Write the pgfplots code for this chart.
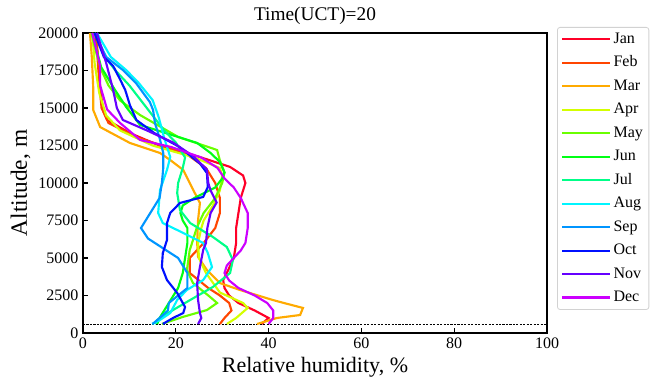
\documentclass[border=0pt]{standalone}
\usepackage{fontspec}
\setmainfont{Liberation Serif}
\usepackage{pgfplots}
\pgfplotsset{compat=1.18}
\definecolor{cJan}{HTML}{FF0028}
\definecolor{cFeb}{HTML}{FF4500}
\definecolor{cMar}{HTML}{FFAA00}
\definecolor{cApr}{HTML}{D4FF00}
\definecolor{cMay}{HTML}{6AFF00}
\definecolor{cJun}{HTML}{00FF15}
\definecolor{cJul}{HTML}{00FF88}
\definecolor{cAug}{HTML}{00F5FF}
\definecolor{cSep}{HTML}{0095FF}
\definecolor{cOct}{HTML}{0010FF}
\definecolor{cNov}{HTML}{6500FF}
\definecolor{cDec}{HTML}{CC00FF}
\begin{document}
\begin{tikzpicture}
\begin{axis}[
  scale only axis, width=348pt, height=225pt,
  xmin=0, xmax=100, ymin=0, ymax=20000,
  xtick={0,20,40,60,80,100},
  ytick={0,2500,5000,7500,10000,12500,15000,17500,20000},
  tick pos=left, tick align=inside, major tick length=3.5pt,
  axis line style={line width=0.9pt},
  every tick/.style={black, line width=0.8pt},
  scaled ticks=false,
  /pgf/number format/assume math mode=true,
  yticklabel style={/pgf/number format/fixed, /pgf/number format/1000 sep={}},
  ticklabel style={font=\fontsize{12}{14}\selectfont},
  xlabel={Relative humidity, \%},
  ylabel={Altitude, m},
  xlabel style={font=\fontsize{16.5}{18}\selectfont},
  ylabel style={font=\fontsize{17.5}{19}\selectfont, yshift=-1pt},
  title={Time(UCT)=20},
  title style={font=\fontsize{14.5}{16}\selectfont, yshift=-3pt},
  every axis plot/.append style={line width=1.6pt},
  legend cell align=left,
  legend image code/.code={\path (-2pt,0pt) -- (34pt,0pt);\draw[#1] (0pt,0pt) -- (26pt,0pt);},
  legend style={at={(1.0216,1.02)}, anchor=north west, draw=gray!35, line width=0.6pt,
    rounded corners=2pt, font=\fontsize{12}{14}\selectfont,
    nodes={inner sep=1.5pt, text height=8.5pt, text depth=2.5pt}, row sep=3.6pt},
]
\addplot[black, densely dotted, line width=0.6pt, forget plot] coordinates {(0,600) (100,600)};
% Jan
\addplot[cJan] coordinates {(38.5,600) (40,1000) (37,1500) (33.5,2000) (31.5,2500) (30.5,3000) (30.2,3530) (31,4000) (32.5,5000) (33,6000) (33,7000) (33.5,8000) (34,9000) (35,10000) (34.5,10500) (31.7,11070) (25.2,11730) (17.2,12400) (10.1,13330) (5.2,14200) (4.3,14870) (3.7,16400) (3.2,18400) (2.6,20000)};
\addlegendentry{Jan}
% Feb
\addplot[cFeb] coordinates {(29.5,600) (30.5,1000) (32,1500) (31.5,2000) (29.5,2500) (27,3000) (25,3500) (23,4000) (23,5000) (26,6000) (28.5,7000) (29.5,8000) (29.5,9000) (28.5,10000) (26.5,11000) (22,12000) (12,13000) (5.5,14000) (4,15000) (3.7,16000) (3.2,18000) (3,20000)};
\addlegendentry{Feb}
% Mar
\addplot[cMar] coordinates {(37.5,600) (41.8,1000) (46.8,1200) (47.4,1670) (43.3,2000) (40.9,2200) (33.8,2870) (29.5,3330) (26.7,4200) (24.8,5070) (24.6,6000) (24.8,7530) (25.2,8670) (24.1,9330) (21.6,10870) (18.8,11530) (16.6,12000) (10.1,12670) (3.7,13730) (2.2,14870) (2.2,16400) (1.9,18400) (1.5,20000)};
\addlegendentry{Mar}
% Apr
\addplot[cApr] coordinates {(31,600) (33,1000) (35.5,1670) (34.5,2000) (29.5,2700) (26.5,4000) (25,5000) (24.8,6000) (25.5,7000) (26,7500) (28,8500) (29.5,9500) (30,10500) (29.5,11000) (24,11700) (15,12500) (8,13500) (5,14500) (3.5,16000) (2.5,18000) (2,20000)};
\addlegendentry{Apr}
% May
\addplot[cMay] coordinates {(17,600) (21.5,1070) (26.7,1530) (28.9,2000) (27.4,2400) (23.7,3330) (22.4,4200) (23,5530) (23.5,6000) (24.5,7000) (26,8000) (28.5,9000) (30,10000) (30.5,10700) (29.5,11500) (28.9,12200) (20.5,13070) (12.3,14530) (8,15500) (5.5,16500) (4,17500) (3,18500) (1.8,20000)};
\addlegendentry{May}
% Jun
\addplot[cJun] coordinates {(16,600) (16.5,1000) (17.5,1500) (18.5,2000) (20.5,3000) (21.5,4000) (22,5000) (22.5,6000) (22.5,7000) (21.5,7500) (21,8000) (21.5,8500) (24,9000) (28.5,9700) (30,10300) (30.5,10700) (29.5,11400) (27.5,12000) (24.6,12670) (12.3,13870) (9.3,15070) (6.9,16200) (3.9,17730) (2,20000)};
\addlegendentry{Jun}
% Jul
\addplot[cJul] coordinates {(15.5,600) (16,870) (19.4,1530) (23.1,2200) (28,3070) (31.7,4000) (32.3,4870) (31,5730) (28,6400) (23.1,7330) (20.9,8200) (20.3,9330) (20.5,10000) (21.5,11000) (22,11700) (20,12700) (17.5,13500) (15,14500) (12.5,15500) (10,16500) (7,17500) (4.5,18500) (2.5,20000)};
\addlegendentry{Jul}
% Aug
\addplot[cAug] coordinates {(14.9,600) (16.6,870) (18.8,1330) (20.3,2200) (22.4,2870) (25.9,3530) (27.8,4400) (26.9,5330) (25.9,6000) (21.6,6670) (17.2,7330) (16.2,8000) (16.6,9530) (18.1,10870) (18.8,11730) (17.5,13000) (16.3,14400) (15,15530) (12,16670) (9.3,17530) (6,18400) (3,20000)};
\addlegendentry{Aug}
% Sep
\addplot[cSep] coordinates {(15,600) (16.5,1000) (18.3,1500) (18.5,2000) (20.5,2500) (22.5,3000) (22.5,4000) (20.5,5000) (17,5700) (14,6300) (12.5,7000) (14.5,8000) (16.5,9000) (17,10000) (17.3,11000) (17.3,12000) (16.5,13000) (15.5,14000) (15.1,14870) (14.4,15400) (11.4,16670) (8.6,17530) (5,18400) (2.5,20000)};
\addlegendentry{Sep}
% Oct
\addplot[cOct] coordinates {(17.2,600) (19.4,1000) (21.6,1330) (22,1730) (20.3,2670) (18.1,3530) (17,4400) (17.2,5330) (18.1,6200) (18.1,7330) (18.8,8000) (20.9,8670) (25.9,9070) (26.9,9730) (26.7,10670) (25.2,11300) (20.8,12400) (15.5,13300) (11.5,14200) (10.1,15200) (9.1,16200) (8,16900) (6.5,17800) (4.5,18400) (2.5,20000)};
\addlegendentry{Oct}
% Nov
\addplot[cNov] coordinates {(24.8,600) (25.5,1000) (25.2,1330) (24.8,2200) (24.6,3330) (25.2,4400) (25.9,5530) (26.5,6000) (26.8,7000) (27.5,8000) (28.8,8700) (27.5,9500) (27,10000) (26.7,10900) (23.7,11800) (19.4,12700) (13.8,13500) (8.6,14200) (7.3,15000) (6.5,16200) (5,18000) (3,20000)};
\addlegendentry{Nov}
% Dec
\addplot[cDec] coordinates {(40,600) (41,1000) (41,1500) (39.7,2000) (37,2500) (33.5,3000) (31.5,3500) (30.5,4000) (31,4500) (32.5,5000) (34,5500) (35,6000) (35.5,7000) (35.5,8000) (34,9000) (32.5,9700) (30.5,10300) (29,11000) (25.5,11700) (19,12400) (12.3,12870) (8,14000) (5.2,14900) (3.7,16500) (3.7,17800) (2,20000)};
\addlegendentry{Dec}
\end{axis}
\path[use as bounding box] ([shift={(-62.25pt,-43.5pt)}]current axis.south west) rectangle ([shift={(81.75pt,24.75pt)}]current axis.north east);
\end{tikzpicture}
\end{document}
